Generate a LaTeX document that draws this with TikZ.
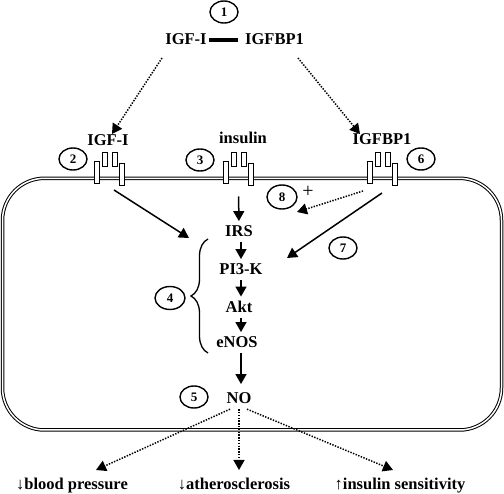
\documentclass[tikz,border=0pt]{standalone}
\usepackage{fontspec}
\setmainfont{Liberation Serif}
\usetikzlibrary{arrows.meta,decorations.pathreplacing,shapes.geometric,calc}
\begin{document}
\begin{tikzpicture}[x=1pt,y=-1pt,
  lbl/.style={font=\fontsize{16.5}{18}\selectfont\bfseries, inner sep=0pt, anchor=base},
  pw/.style={lbl, outer sep=5pt},
  num/.style={draw, line width=1.4pt, ellipse, minimum width=28pt, minimum height=22pt, inner sep=0pt, font=\fontsize{13}{14}\selectfont\bfseries},
  bigbar/.style={draw, line width=1pt, fill=white, minimum width=5.5pt, minimum height=22pt, inner sep=0pt},
  smallbar/.style={draw, line width=1pt, fill=white, minimum width=4.5pt, minimum height=14pt, inner sep=0pt},
  sarr/.style={line width=1.5pt, -{Triangle[length=10pt,width=11pt]}},
  darr/.style={line width=1.5pt, dash pattern=on 1.4pt off 1.4pt, -{Triangle[length=10pt,width=11pt]}},
]
\useasboundingbox (0,0) rectangle (504,494);
% cell membrane
\draw[double, line width=1pt, double distance=1.5pt, rounded corners=42pt] (2.5,178.3) rectangle (501.5,430);
% receptors
\foreach \n/\x in {a/97,b/226,c/370} {
  \node[bigbar] (\n L) at (\x,173) {};
  \node[bigbar] (\n R) at (\x+25,175) {};
  \node[smallbar] (\n S) at (\x+8,160) {};
  \node[smallbar] (\n T) at (\x+18,160) {};
}
% top complex
\node[lbl] (igf0) at (186,45) {IGF-I};
\node[lbl] (bp0) at (274.5,45) {IGFBP1};
\draw[line width=4pt, shorten <=2pt, shorten >=7pt] (igf0.east) -- (bp0.west);
\node[num] (n1) at (224,12) {1};
% receptor labels
\node[lbl] (igf1) at (108,146) {IGF-I};
\node[lbl] (ins) at (243,144) {insulin};
\node[lbl] (bp1) at (382,145) {IGFBP1};
\node[num] (n2) at (73,159) {2};
\node[num] (n3) at (200,160) {3};
\node[num] (n6) at (421,159) {6};
% dotted arrows from complex
\coordinate (s1) at (162,58);
\coordinate (t1) at (112,134);
\coordinate (s2) at (298,58);
\coordinate (t2) at (360,134);
\draw[darr] (s1) -- (t1);
\draw[darr] (s2) -- (t2);
% pathway
\node[pw] (irs) at (239,237) {IRS};
\node[pw] (pi3k) at (241,275) {PI3-K};
\node[pw] (akt) at (239,313) {Akt};
\node[pw] (enos) at (237,348) {eNOS};
\node[pw] (no) at (239,404) {NO};
\draw[sarr, shorten <=11pt] ($(bL.south)!0.5!(bR.south)$) -- (irs);
\draw[sarr] (irs.south -| pi3k) -- (pi3k);
\draw[sarr] (pi3k) -- (akt.north -| pi3k);
\draw[sarr] (akt.south -| pi3k) -- (enos.north -| pi3k);
\draw[sarr, shorten >=4pt] (enos.south -| pi3k) -- (no.north -| pi3k);
% brace
\draw[line width=1.3pt, decorate, decoration={brace, amplitude=17pt}] (208,353) -- (208,239);
\node[num, minimum width=30pt, minimum height=23pt] (n4) at (170,298) {4};
\node[num] (n5) at (194,397) {5};
% side arrows
\coordinate (s3) at (114,190);
\coordinate (t3) at (189,238);
\draw[sarr] (s3) -- (t3);
\coordinate (s4) at (382,193);
\coordinate (t4) at (287,258);
\draw[sarr] (s4) -- (t4);
\node[num] (n7) at (343,248) {7};
\node[num, minimum width=30pt, minimum height=24pt] (n8) at (282,197) {8};
\node[font=\fontsize{20}{20}\selectfont, inner sep=0pt] (plus) at (308,192) {+};
\coordinate (s5) at (363,191);
\coordinate (t5) at (297,212);
\draw[darr] (s5) -- (t5);
% outcomes
\node[lbl] (o1) at (72,490) {↓blood pressure};
\node[lbl] (o2) at (234,490) {↓atherosclerosis};
\node[lbl] (o3) at (400,490) {↑insulin sensitivity};
\coordinate (b1) at (96,470);
\coordinate (b2) at (239,470);
\coordinate (b3) at (393,470);
\draw[darr] ([xshift=-9pt]no.south) -- (b1);
\draw[darr] (no.south) -- (b2);
\draw[darr] ([xshift=8pt]no.south) -- (b3);
\end{tikzpicture}
\end{document}
